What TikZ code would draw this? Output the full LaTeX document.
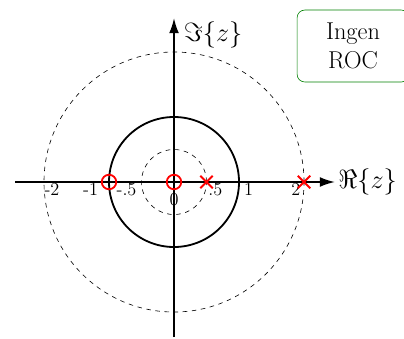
\documentclass[tikz,border=0pt]{standalone}
\usepackage{amsmath,amssymb}
\usetikzlibrary{arrows.meta,shapes.misc}
\newcommand{\biglbl}{\fontsize{16}{19}\selectfont}
\newcommand{\ticksize}{\fontsize{12}{14}\selectfont}
\tikzset{
  axis/.style     = {-{Latex[length=10pt,width=6.5pt]}, very thick},
  unitring/.style = {very thick},
  rocring/.style  = {dashed},
  zero/.style     = {draw=red, very thick, circle, inner sep=0pt, minimum size=9.5pt},
  pole/.style     = {draw=red, very thick, cross out, inner sep=0pt, minimum size=7pt},
  ticklbl/.style  = {font=\ticksize, inner sep=1pt},
  axlbl/.style    = {font=\biglbl, anchor=west, inner sep=2pt},
  notebox/.style  = {draw=green!50!black, rounded corners=5pt, align=center,
                     font=\biglbl, minimum width=2.58cm, minimum height=1.66cm},
}

\begin{document}
\begin{tikzpicture}[x=1.5cm, y=1.5cm]
\useasboundingbox (-2.677,-2.4) rectangle (3.538,2.8);
% ---------- circles ----------
\draw[rocring] (0,0) circle (2);
\draw[rocring] (0,0) circle (0.5);
\draw[unitring] (0,0) circle (1);
% ---------- axes ----------
\coordinate (xmin) at (-2.446,0);
\coordinate (xmax) at (2.477,0);
\coordinate (ymin) at (0,-2.385);
\coordinate (ymax) at (0,2.523);
\draw[axis] (xmin) -- (xmax);
\draw[axis] (ymin) -- (ymax);
\node[axlbl] (relbl) at (xmax) {$\Re\{z\}$};
\node[axlbl] (imlbl) at (0.1,2.26) {$\Im\{z\}$};
% tick labels
\node[ticklbl, anchor=west] (tm2) at (-2.02,-0.12) {-2};
\node[ticklbl, anchor=east] (tm1) at (-1.14,-0.12) {-1};
\node[ticklbl, anchor=east] (tmh) at (-0.55,-0.12) {-.5};
\node[ticklbl, anchor=north] (t0) at (0,-0.14) {0};
\node[ticklbl, anchor=west] (tph) at (0.5,-0.12) {.5};
\node[ticklbl, anchor=west] (tp1) at (1.05,-0.12) {1};
\node[ticklbl, anchor=east] (tp2) at (1.97,-0.12) {2};
% ---------- zeros and poles ----------
\node[zero] (z1) at (-1,0) {};
\node[zero] (z2) at (0,0) {};
\node[pole] (p1) at (0.5,0) {};
\node[pole] (p2) at (2,0) {};
% ---------- note ----------
\node[notebox] (roc) at (2.754,2.092) {Ingen\\ROC};
\end{tikzpicture}
\end{document}
